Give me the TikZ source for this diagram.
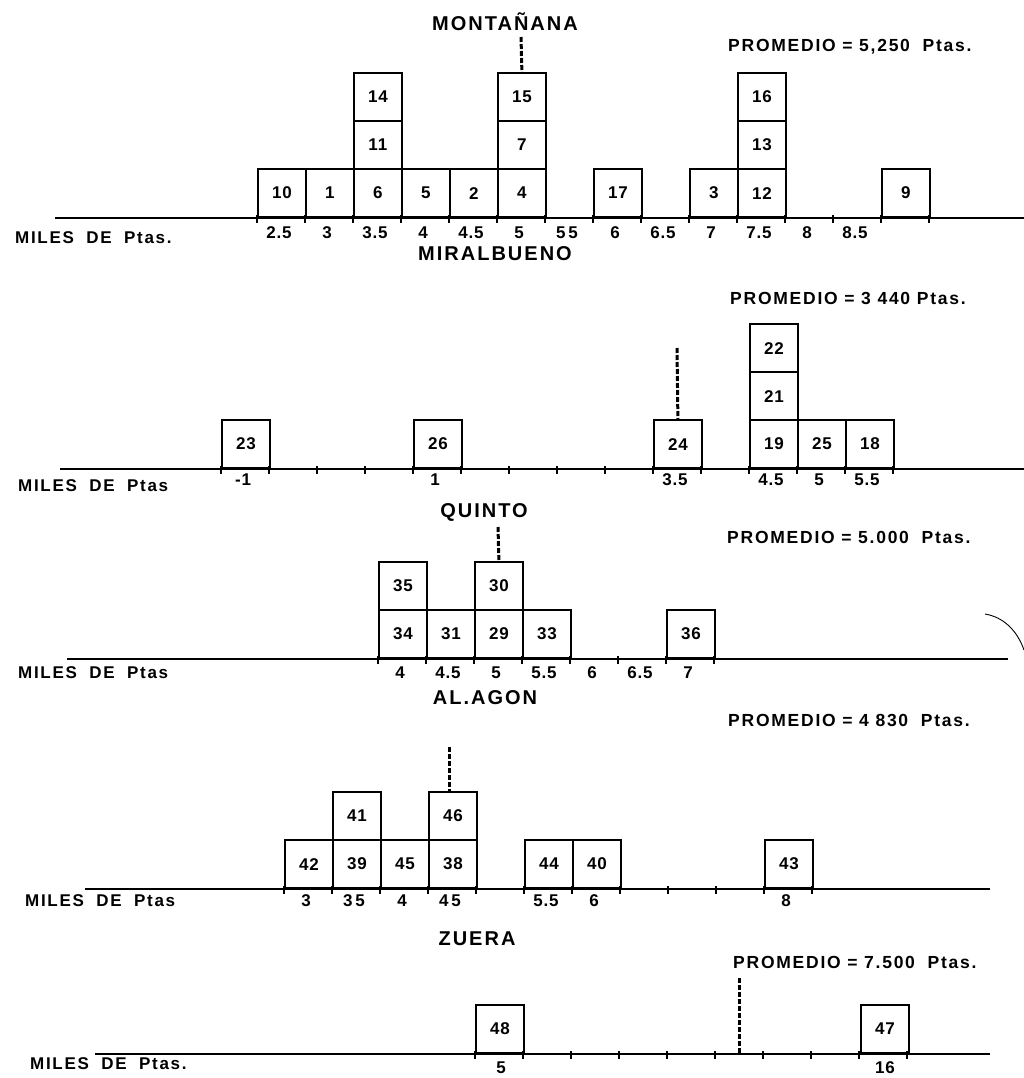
\documentclass[tikz,border=0pt]{standalone}
\usepackage{fontspec}
\setmainfont{Liberation Sans}
\newfontfamily\lettering[LetterSpace=10]{Liberation Sans}
\newfontfamily\digitsfont[LetterSpace=5]{Liberation Sans}
\begin{document}
\begin{tikzpicture}[x=1pt,y=-1pt,
  cell/.style={draw, line width=1.8pt, minimum width=48pt, minimum height=48pt,
    inner sep=0pt, anchor=south west, font=\digitsfont\fontsize{17}{19}\selectfont\bfseries},
  axisline/.style={line width=2.5pt},
  tickmark/.style={line width=1.3pt},
  meanline/.style={line width=3pt, dash pattern=on 5pt off 2pt},
  ticklabel/.style={font=\digitsfont\fontsize{17}{19}\selectfont\bfseries, inner sep=0pt},
  title/.style={font=\lettering\fontsize{20}{22}\selectfont\bfseries, inner sep=0pt},
  promedio/.style={font=\lettering\fontsize{17.5}{20}\selectfont\bfseries, inner sep=0pt, anchor=west},
  miles/.style={font=\lettering\fontsize{17}{19}\selectfont\bfseries, inner sep=0pt, anchor=west}
]
\useasboundingbox (0,0) rectangle (1024,1078);

% ================= MONTAÑANA =================
\node[title] (t1) at (505,22) {MONTAÑANA};
\node[promedio] (p1) at (728,47) {PROMEDIO = 5,250\hspace{6pt} Ptas.};
\coordinate (a1l) at (55,218);
\coordinate (a1r) at (1024,218);
\draw[axisline] (a1l) -- (a1r);
\foreach \k in {0,...,14} {\draw[tickmark] (257+48*\k,215) -- (257+48*\k,223);}
\node[cell] (b10) at (257,218) {10};
\node[cell] (b1)  at (305,218) {1};
\node[cell] (b6)  at (353,218) {6};
\node[cell] (b11) at (353,170) {11};
\node[cell] (b14) at (353,122) {14};
\node[cell] (b5)  at (401,218) {5};
\node[cell] (b2)  at (449,218) {2};
\node[cell] (b4)  at (497,218) {4};
\node[cell] (b7)  at (497,170) {7};
\node[cell] (b15) at (497,122) {15};
\node[cell] (b17) at (593,218) {17};
\node[cell] (b3)  at (689,218) {3};
\node[cell] (b12) at (737,218) {12};
\node[cell] (b13) at (737,170) {13};
\node[cell] (b16) at (737,122) {16};
\node[cell] (b9)  at (881,218) {9};
\coordinate (m1) at (521,37);
\draw[meanline] (m1) -- (b15.north);
\foreach \k/\t in {0/2.5,1/3,2/3.5,3/4,4/4.5,5/5,6/5\,5,7/6,8/6.5,9/7,10/7.5,11/8,12/8.5}
  {\node[ticklabel] (l1-\k) at (279+48*\k,233) {\t};}
\node[miles] (mi1) at (15,238) {MILES\hspace{6pt} DE\hspace{6pt} Ptas.};

% ================= MIRALBUENO =================
\node[title] (t2) at (495,254) {MIRALBUENO};
\node[promedio] (p2) at (730,298) {PROMEDIO = 3 440 Ptas.};
\coordinate (a2l) at (60,469);
\coordinate (a2r) at (1024,469);
\draw[axisline] (a2l) -- (a2r);
\foreach \k in {0,...,14} {\draw[tickmark] (221+48*\k,466) -- (221+48*\k,474);}
\node[cell] (b23) at (221,469) {23};
\node[cell] (b26) at (413,469) {26};
\node[cell] (b24) at (653,469) {24};
\node[cell] (b19) at (749,469) {19};
\node[cell] (b21) at (749,421) {21};
\node[cell] (b22) at (749,373) {22};
\node[cell] (b25) at (797,469) {25};
\node[cell] (b18) at (845,469) {18};
\coordinate (m2) at (677,348);
\draw[meanline] (m2) -- (b24.north);
\foreach \k/\t in {0/-1,4/1,9/3.5,11/4.5,12/5,13/5.5}
  {\node[ticklabel] (l2-\k) at (243+48*\k,480) {\t};}
\node[miles] (mi2) at (18,486) {MILES\hspace{6pt} DE\hspace{6pt} Ptas};

% ================= QUINTO =================
\node[title] (t3) at (484,512) {QUINTO};
\node[promedio] (p3) at (727,537) {PROMEDIO = 5.000\hspace{6pt} Ptas.};
\coordinate (a3l) at (67,659);
\coordinate (a3r) at (1008,659);
\draw[axisline] (a3l) -- (a3r);
\foreach \k in {0,...,7} {\draw[tickmark] (378+48*\k,656) -- (378+48*\k,664);}
\node[cell] (b34) at (378,659) {34};
\node[cell] (b35) at (378,611) {35};
\node[cell] (b31) at (426,659) {31};
\node[cell] (b29) at (474,659) {29};
\node[cell] (b30) at (474,611) {30};
\node[cell] (b33) at (522,659) {33};
\node[cell] (b36) at (666,659) {36};
\coordinate (m3) at (498,527);
\draw[meanline] (m3) -- (b30.north);
\foreach \k/\t in {0/4,1/4.5,2/5,3/5.5,4/6,5/6.5,6/7}
  {\node[ticklabel] (l3-\k) at (400+48*\k,673) {\t};}
\node[miles] (mi3) at (18,673) {MILES\hspace{6pt} DE\hspace{6pt} Ptas};
\draw[line width=0.9pt] (985,614) .. controls (1003,617) and (1017,630) .. (1024,650);

% ================= ALAGON =================
\node[title] (t4) at (485,698) {AL.AGON};
\node[promedio] (p4) at (728,720) {PROMEDIO = 4 830\hspace{6pt} Ptas.};
\coordinate (a4l) at (85,889);
\coordinate (a4r) at (990,889);
\draw[axisline] (a4l) -- (a4r);
\foreach \k in {0,...,11} {\draw[tickmark] (284+48*\k,886) -- (284+48*\k,894);}
\node[cell] (b42) at (284,889) {42};
\node[cell] (b39) at (332,889) {39};
\node[cell] (b41) at (332,841) {41};
\node[cell] (b45) at (380,889) {45};
\node[cell] (b38) at (428,889) {38};
\node[cell] (b46) at (428,841) {46};
\node[cell] (b44) at (524,889) {44};
\node[cell] (b40) at (572,889) {40};
\node[cell] (b43) at (764,889) {43};
\coordinate (m4) at (449,747);
\draw[meanline] (m4) -- (m4 |- b46.north);
\foreach \k/\t in {0/3,1/3\,5,2/4,3/4\,5,5/5.5,6/6,10/8}
  {\node[ticklabel] (l4-\k) at (306+48*\k,901) {\t};}
\node[miles] (mi4) at (25,901) {MILES\hspace{6pt} DE\hspace{6pt} Ptas};

% ================= ZUERA =================
\node[title] (t5) at (477,939) {ZUERA};
\node[promedio] (p5) at (733,962) {PROMEDIO = 7.500\hspace{6pt} Ptas.};
\coordinate (a5l) at (95,1054);
\coordinate (a5r) at (990,1054);
\draw[axisline] (a5l) -- (a5r);
\foreach \k in {0,...,9} {\draw[tickmark] (475+48*\k,1051) -- (475+48*\k,1059);}
\node[cell] (b48) at (475,1054) {48};
\node[cell] (b47) at (860,1054) {47};
\coordinate (m5) at (739,978);
\coordinate (m5b) at (739,1054);
\draw[meanline] (m5) -- (m5b);
\node[ticklabel] (l5a) at (501,1068) {5};
\node[ticklabel] (l5b) at (885,1068) {16};
\node[miles] (mi5) at (30,1064) {MILES\hspace{6pt} DE\hspace{6pt} Ptas.};
\end{tikzpicture}
\end{document}
